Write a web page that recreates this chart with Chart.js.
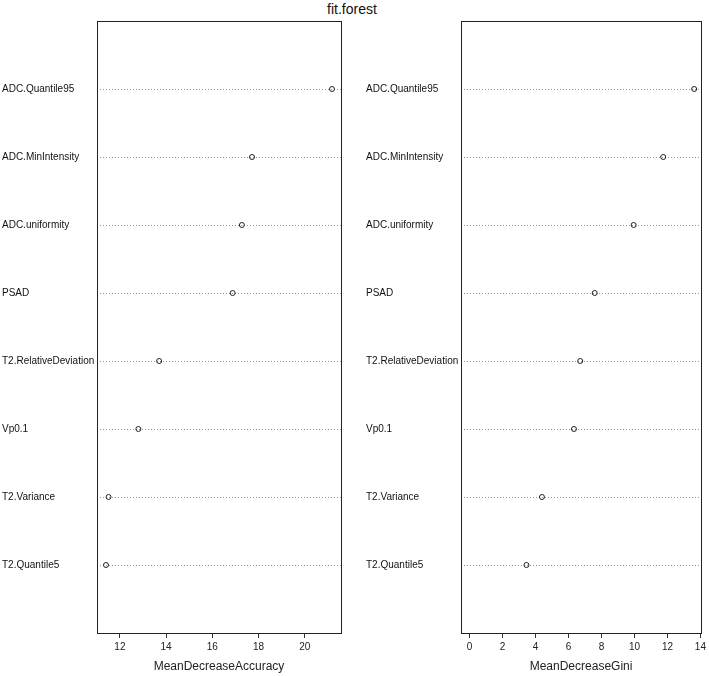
<!DOCTYPE html>
<html>
<head>
<meta charset="utf-8">
<script src="https://cdn.jsdelivr.net/npm/chart.js@4/dist/chart.umd.min.js"></script>
<style>
  body { margin: 0; background: #fff; }
  #wrap { position: relative; width: 709px; height: 676px; }
  #titolo { position: absolute; left: 0; top: 1px; width: 704px; text-align: center;
            font: 14px "Liberation Sans", Arial, sans-serif; color: #111; }
  canvas { position: absolute; top: 0; }
  #accChart { left: 0; }
  #giniChart { left: 364px; }
</style>
</head>
<body>
<div id="wrap">
  <div id="titolo">fit.forest</div>
  <canvas id="accChart" width="354" height="676"></canvas>
  <canvas id="giniChart" width="345" height="676"></canvas>
</div>
<script>
// variabili, dall'alto verso il basso
const variabili = ['ADC.Quantile95', 'ADC.MinIntensity', 'ADC.uniformity', 'PSAD',
                   'T2.RelativeDeviation', 'Vp0.1', 'T2.Variance', 'T2.Quantile5'];
const meanDecreaseAccuracy = [21.18, 17.72, 17.28, 16.88, 13.70, 12.80, 11.51, 11.40];
const meanDecreaseGini = [13.62, 11.74, 9.95, 7.59, 6.71, 6.33, 4.39, 3.45];

const tickAccuracy = [12, 14, 16, 18, 20];
const tickGini = [0, 2, 4, 6, 8, 10, 12, 14];
const rangeAccuracy = [11.01, 21.57];
const rangeGini = [-0.52, 14.04];

const n = variabili.length;
const fontBase = '"Liberation Sans", Arial, sans-serif';

// riquadro attorno all'area del grafico (come box() in R)
const boxPlugin = {
    id: 'box',
    afterDraw(chart) {
        const a = chart.chartArea;
        const ctx = chart.ctx;
        ctx.save();
        ctx.strokeStyle = '#222';
        ctx.lineWidth = 1;
        ctx.strokeRect(Math.round(a.left) + 0.5, Math.round(a.top) + 0.5,
                       Math.round(a.right - a.left), Math.round(a.bottom - a.top));
        ctx.restore();
    }
};

function creaGrafico(id, valori, ticks, range, titoloX, paddingRight) {
    const ctx = document.getElementById(id).getContext('2d');
    return new Chart(ctx, {
        type: 'scatter',
        data: {
            datasets: [{
                data: valori.map((v, i) => ({ x: v, y: n - i })),
                pointRadius: 2.5,
                pointBorderWidth: 1,
                borderColor: '#222',
                backgroundColor: 'rgba(0,0,0,0)'
            }]
        },
        options: {
            responsive: false,
            animation: false,
            layout: { padding: { left: 2, right: paddingRight, top: 21, bottom: 0 } },
            plugins: {
                legend: { display: false },
                tooltip: { enabled: false }
            },
            scales: {
                x: {
                    type: 'linear',
                    min: range[0],
                    max: range[1],
                    afterBuildTicks: s => { s.ticks = ticks.map(v => ({ value: v })); },
                    afterFit: s => { s.height = 43; },
                    grid: { drawOnChartArea: false, drawTicks: true, tickLength: 5, tickColor: '#333' },
                    border: { display: false },
                    ticks: { color: '#222', padding: 3, maxRotation: 0, font: { family: fontBase, size: 10 } },
                    title: { display: true, text: titoloX, color: '#222', padding: { top: 0, bottom: 2 },
                             font: { family: fontBase, size: 12 } }
                },
                y: {
                    type: 'linear',
                    min: 0,
                    max: n + 1,
                    afterBuildTicks: s => { s.ticks = variabili.map((c, i) => ({ value: n - i })); },
                    afterFit: s => { s.width = 95; },
                    grid: { drawTicks: false, color: '#999', lineWidth: 1 },
                    border: { display: false, dash: [1, 2] },
                    ticks: {
                        crossAlign: 'far',
                        color: '#111',
                        font: { family: fontBase, size: 10 },
                        callback: v => variabili[n - v]
                    }
                }
            }
        },
        plugins: [boxPlugin]
    });
}

creaGrafico('accChart', meanDecreaseAccuracy, tickAccuracy, rangeAccuracy, 'MeanDecreaseAccuracy', 13);
creaGrafico('giniChart', meanDecreaseGini, tickGini, rangeGini, 'MeanDecreaseGini', 5);
</script>
</body>
</html>
